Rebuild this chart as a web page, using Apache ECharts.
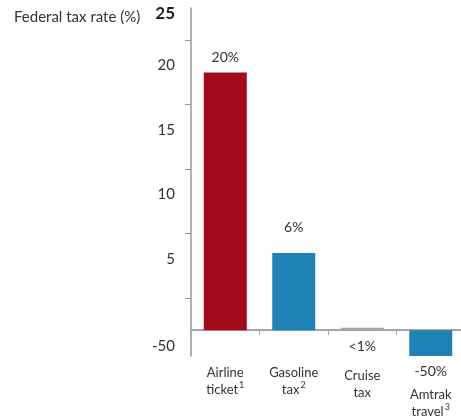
<!DOCTYPE html>
<html>
<head>
<meta charset="utf-8">
<style>
  html, body { margin: 0; padding: 0; background: #fff; }
  #chart { width: 461px; height: 419px; }
</style>
<script src="https://cdn.jsdelivr.net/npm/echarts@6/dist/echarts.min.js"></script>
</head>
<body>
<div id="chart"></div>
<script>
// Federal tax rate by mode of travel
const categories = ['Airline', 'Gasoline', 'Cruise', 'Amtrak'];
const categorySecondLine = ['ticket', 'tax', 'tax', 'travel'];
const footnotes = ['1', '2', '', '3'];
const taxRates = [20, 6, 0.2, -50];
const valueLabels = ['20%', '6%', '<1%', '-50%'];
const yTickLabels = [25, 20, 15, 10, 5, -50];
const yTickMarks = [22.5, 17.5, 12.5, 7.5, 2.5];

const RED = '#a50a1b';
const BLUE = '#1f82b5';
const GREY = '#a6a6a6';
const FONT = 'Lato, "Open Sans", sans-serif';

const barColors = [RED, BLUE, GREY, BLUE];
// where each value label sits relative to its bar
const labelPlacement = [
  { position: 'top', distance: 8 },
  { position: 'top', distance: 18 },
  { position: 'bottom', distance: 9 },
  { position: 'bottom', distance: 8 }
];
// extra room above the category names that sit under a value label
const catPadTop = [0, 0, 3, 22];

const chart = echarts.init(document.getElementById('chart'), null, { renderer: 'canvas' });

function categoryText(i) {
  let s = '{c|' + categories[i] + '}\n{c|' + categorySecondLine[i] + '}';
  if (footnotes[i]) s += '{s|' + footnotes[i] + '}';
  return s;
}

chart.setOption({
  animation: false,
  title: {
    text: 'Federal tax rate (%)',
    left: 9,
    top: 5,
    textStyle: { fontFamily: FONT, fontSize: 15, fontWeight: 'normal', color: '#333' }
  },
  grid: { left: 191, right: -4, top: 8, bottom: 63, containLabel: false, outerBoundsMode: 'none' },
  xAxis: {
    type: 'category',
    data: categories.map((c, i) => ({ value: c, textStyle: { padding: [catPadTop[i], 0, 0, 0] } })),
    axisLine: { onZero: true, lineStyle: { color: '#a6a6a6', width: 2 } },
    axisTick: { show: true, alignWithLabel: false, inside: false, length: 5, lineStyle: { color: '#a6a6a6', width: 1 } },
    axisLabel: {
      interval: 0,
      margin: 8,
      fontFamily: FONT,
      formatter: function (v, i) { return categoryText(i); },
      rich: {
        c: { fontFamily: FONT, fontSize: 13, lineHeight: 17, color: '#333' },
        s: { fontFamily: FONT, fontSize: 9, lineHeight: 17, color: '#333', verticalAlign: 'top', padding: [0, 0, 0, 1] }
      }
    }
  },
  yAxis: {
    type: 'value',
    min: -50,
    max: 25,
    breaks: [{ start: -48, end: 0, gap: 0 }],
    breakArea: { show: false },
    splitLine: { show: false },
    axisLine: { show: true, lineStyle: { color: '#999', width: 1.5 } },
    axisTick: {
      show: true,
      customValues: yTickMarks,
      length: 6,
      lineStyle: { color: '#999', width: 1 }
    },
    axisLabel: {
      customValues: yTickLabels,
      margin: 16,
      fontFamily: FONT,
      formatter: function (v) {
        if (v === 25) return '{top|25}';
        if (v === -50) return '{neg|-50}';
        return '{n|' + v + '}';
      },
      rich: {
        top: { fontFamily: FONT, fontSize: 17, fontWeight: 'bold', color: '#222', padding: [12, 0, 0, 0] },
        n: { fontFamily: FONT, fontSize: 15, color: '#333', padding: [0, 0, 14, 0] },
        neg: { fontFamily: FONT, fontSize: 15, color: '#333', padding: [0, 0, 20, 0] }
      }
    }
  },
  series: [{
    type: 'bar',
    barWidth: 43,
    data: taxRates.map((v, i) => ({
      value: v,
      itemStyle: { color: barColors[i] },
      label: {
        show: true,
        position: labelPlacement[i].position,
        distance: labelPlacement[i].distance,
        formatter: valueLabels[i],
        fontFamily: FONT,
        fontSize: 14,
        color: '#333'
      }
    }))
  }]
});
</script>
</body>
</html>
